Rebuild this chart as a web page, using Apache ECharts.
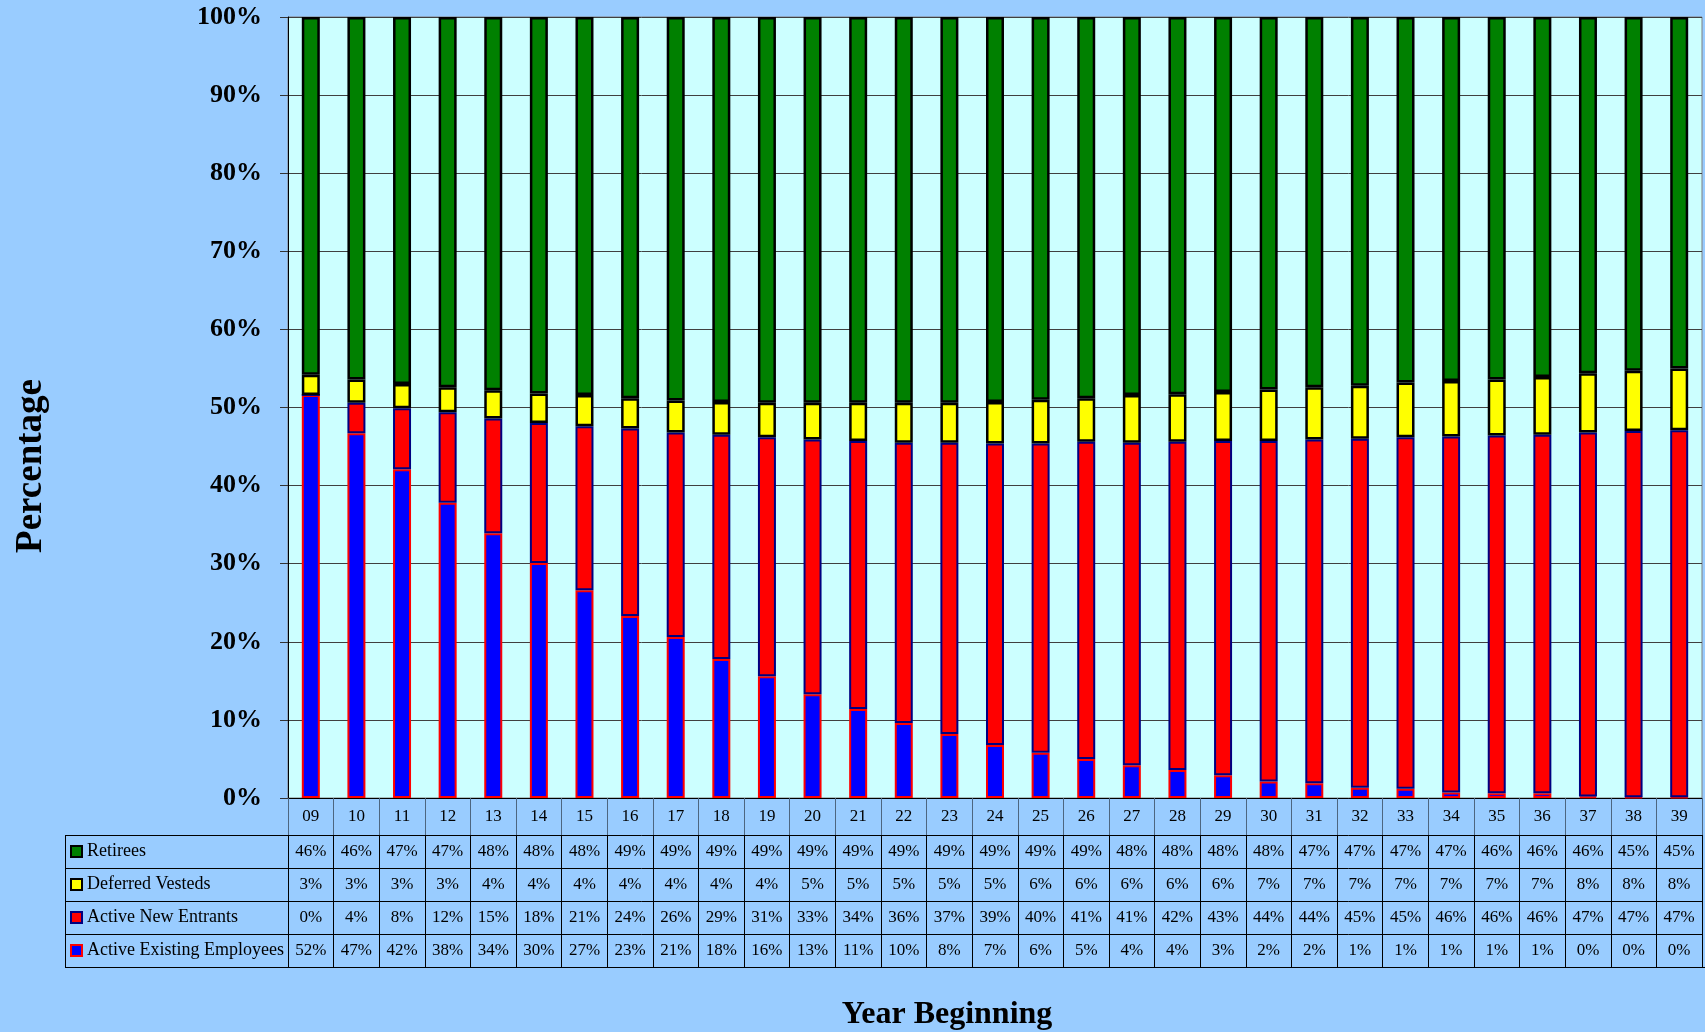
<!DOCTYPE html>
<html>
<head>
<meta charset="utf-8">
<title>Membership by Status</title>
<script src="https://cdn.jsdelivr.net/npm/echarts@6/dist/echarts.min.js"></script>
<style>
html, body { margin: 0; padding: 0; background: #99CCFF; }
#container { width: 1705px; height: 1032px; }
</style>
</head>
<body>
<div id="container"></div>
<script>
var years = ['09','10','11','12','13','14','15','16','17','18','19','20','21','22','23','24',
             '25','26','27','28','29','30','31','32','33','34','35','36','37','38','39'];

// percent of total membership
var existing = [51.6, 46.7, 42.1, 37.8, 33.9, 30.1, 26.6, 23.3, 20.6, 17.8, 15.6, 13.3, 11.4, 9.6, 8.2, 6.8,
                5.8, 5.0, 4.2, 3.6, 2.9, 2.1, 1.9, 1.3, 1.2, 0.7, 0.6, 0.6, 0.2, 0.1, 0.1];
var newEntrants = [0, 3.9, 7.8, 11.6, 14.7, 17.9, 21.0, 24.0, 26.2, 28.7, 30.6, 32.6, 34.3, 35.9, 37.3, 38.6,
                   39.6, 40.6, 41.3, 42.0, 42.8, 43.6, 44.0, 44.7, 45.0, 45.6, 45.8, 45.9, 46.6, 46.9, 47.0];
var deferred = [2.6, 3.0, 3.1, 3.2, 3.6, 3.8, 4.0, 3.9, 4.1, 4.2, 4.4, 4.7, 4.9, 5.1, 5.1, 5.3,
                5.6, 5.6, 6.1, 6.1, 6.3, 6.6, 6.7, 6.8, 7.0, 7.1, 7.2, 7.4, 7.6, 7.7, 7.9];
var retirees = [45.8, 46.4, 47.0, 47.4, 47.8, 48.2, 48.4, 48.8, 49.1, 49.3, 49.4, 49.4, 49.4, 49.4, 49.4, 49.3,
                49.0, 48.8, 48.4, 48.3, 48.0, 47.7, 47.4, 47.2, 46.8, 46.6, 46.4, 46.1, 45.6, 45.3, 45.0];

var yTicks = [0, 10, 20, 30, 40, 50, 60, 70, 80, 90, 100];

var FONT = 'Liberation Serif';
var gridBottom = 798;
var rowH = 33;
var firstRow = 835;   // top of the Retirees row

// table rows, top to bottom
var rows = [
    {name: 'Retirees', values: retirees},
    {name: 'Deferred Vesteds', values: deferred},
    {name: 'Active New Entrants', values: newEntrants},
    {name: 'Active Existing Employees', values: existing}
];

function pct(v) {
    return Math.round(v) + '%';
}

// each table row is an extra category axis hung under the grid
function tableAxis(values, offset) {
    return {
        type: 'category',
        gridIndex: 0,
        position: 'bottom',
        offset: offset,
        data: years,
        axisLine: {show: true, lineStyle: {color: '#000', width: 1}},
        axisTick: {show: true, interval: 0, length: rowH, lineStyle: {color: '#000', width: 1}},
        axisLabel: {
            interval: 0, margin: 8, fontSize: 17, fontFamily: FONT, color: '#000',
            formatter: function (v, i) { return pct(values[i]); }
        },
        splitLine: {show: false},
        axisPointer: {show: false}
    };
}

var xAxes = [{
    type: 'category',
    gridIndex: 0,
    position: 'bottom',
    data: years,
    axisLine: {show: true, lineStyle: {color: '#000', width: 1}},
    axisTick: {show: true, interval: 0, length: firstRow - gridBottom, lineStyle: {color: '#4d6680', width: 1}},
    axisLabel: {interval: 0, margin: 10, fontSize: 17, fontFamily: FONT, color: '#000'},
    splitLine: {show: false}
}];
for (var i = 0; i < rows.length; i++) {
    xAxes.push(tableAxis(rows[i].values, firstRow - gridBottom + i * rowH));
}

var legends = [];
for (var j = 0; j < rows.length; j++) {
    legends.push({
        data: [rows[j].name],
        left: 70,
        top: firstRow + j * rowH + rowH / 2 - 10,
        padding: 0,
        icon: 'rect',
        itemWidth: 11,
        itemHeight: 11,
        selectedMode: false,
        textStyle: {fontSize: 18, fontFamily: FONT, color: '#000', lineHeight: 20}
    });
}

// frame of the label column on the left of the table
var tableBottom = firstRow + rows.length * rowH;
var frame = [];
for (var k = 0; k <= rows.length; k++) {
    var y = firstRow + k * rowH + 0.5;
    frame.push({
        type: 'line',
        shape: {x1: 65, y1: y, x2: k == rows.length ? 1705 : 288, y2: y},
        style: {stroke: '#000', lineWidth: 1}
    });
}
frame.push({
    type: 'line',
    shape: {x1: 65.5, y1: firstRow, x2: 65.5, y2: tableBottom},
    style: {stroke: '#000', lineWidth: 1}
});
frame.push({
    type: 'text',
    x: 31, y: 466,
    rotation: Math.PI / 2,
    style: {text: 'Percentage', font: 'bold 37px "Liberation Serif"', fill: '#000',
            textAlign: 'center', textVerticalAlign: 'middle'}
});
frame.push({
    type: 'text',
    x: 947, y: 1015,
    style: {text: 'Year Beginning', font: 'bold 32px "Liberation Serif"', fill: '#000',
            textAlign: 'center', textVerticalAlign: 'middle'}
});

function barSeries(name, data, color, border, bw) {
    return {
        name: name,
        type: 'bar',
        stack: 'total',
        barWidth: 18,
        data: data,
        itemStyle: {color: color, borderColor: border, borderWidth: bw}
    };
}

var dom = document.getElementById('container');
var myChart = echarts.init(dom);
var option = {
    backgroundColor: '#99CCFF',
    animation: false,
    legend: legends,
    grid: {
        left: 288, right: 3, top: 17, bottom: 1032 - gridBottom,
        show: true, backgroundColor: '#CCFFFF', borderColor: '#808080', borderWidth: 1,
        containLabel: false, outerBoundsMode: 'none'
    },
    xAxis: xAxes,
    yAxis: {
        type: 'value',
        min: yTicks[0],
        max: yTicks[yTicks.length - 1],
        interval: yTicks[1] - yTicks[0],
        axisLine: {show: true, lineStyle: {color: '#000', width: 1}},
        axisTick: {show: true, length: 8, lineStyle: {color: '#333'}},
        axisLabel: {margin: 26, fontSize: 26, fontWeight: 'bold', fontFamily: FONT, color: '#000',
                    formatter: '{value}%'},
        splitLine: {show: true, lineStyle: {color: '#404040', width: 1}}
    },
    series: [
        barSeries('Active Existing Employees', existing, '#0000FF', '#FF0000', 2),
        barSeries('Active New Entrants', newEntrants, '#FF0000', '#000080', 2),
        barSeries('Deferred Vesteds', deferred, '#FFFF00', '#000000', 2.5),
        barSeries('Retirees', retirees, '#008000', '#000000', 2.5)
    ],
    graphic: frame
};

if (option && typeof option === 'object') {
    myChart.setOption(option, true);
}
</script>
</body>
</html>
